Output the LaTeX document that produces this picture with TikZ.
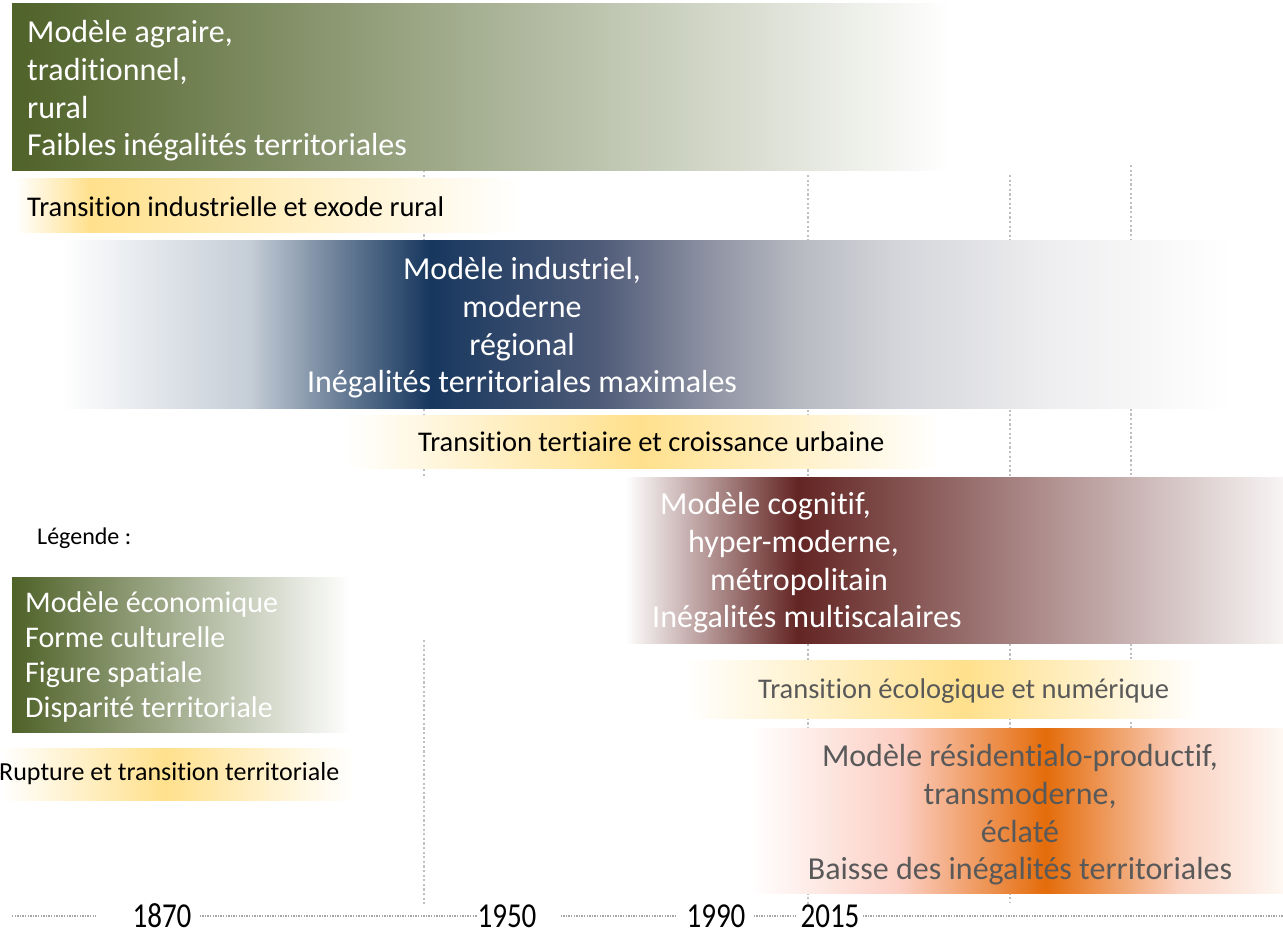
\documentclass[tikz,border=0pt]{standalone}
\usepackage{fontspec}
\setmainfont{Carlito}[Ligatures={NoCommon}]
\usetikzlibrary{positioning}

\definecolor{olivedark}{HTML}{4F6228}
\definecolor{navydark}{HTML}{17375E}
\definecolor{navymid}{HTML}{4F5B78}
\definecolor{navylight}{HTML}{8A8FA0}
\definecolor{navypale}{HTML}{B8BAC2}
\definecolor{navyfaint}{HTML}{D5D6DB}
\definecolor{navyghost}{HTML}{EEEEF0}
\definecolor{maroondark}{HTML}{632523}
\definecolor{orangedark}{HTML}{E46C0A}
\definecolor{paleyellow}{HTML}{FFE08C}
\definecolor{textgray}{HTML}{595959}
\definecolor{dotgray}{HTML}{BFBFBF}
\definecolor{linegray}{HTML}{A6A6A6}

% gradients: the path covers 25bp..75bp of each shading
\pgfdeclarehorizontalshading{agraire}{100bp}{color(0bp)=(olivedark); color(25bp)=(olivedark); color(75bp)=(white); color(100bp)=(white)}
\pgfdeclarehorizontalshading{industriel}{100bp}{color(0bp)=(white); color(25bp)=(white); color(33.1bp)=(navydark!25); color(36.5bp)=(navydark!60); color(40.8bp)=(navydark); color(48.1bp)=(navymid); color(52.4bp)=(navylight); color(56.6bp)=(navypale); color(60.9bp)=(navyfaint); color(67.3bp)=(navyghost); color(75bp)=(white); color(100bp)=(white)}
\pgfdeclarehorizontalshading{cognitif}{100bp}{color(0bp)=(white); color(25bp)=(white); color(38.1bp)=(maroondark); color(75bp)=(maroondark!5); color(100bp)=(maroondark!5)}
\pgfdeclarehorizontalshading{residentiel}{100bp}{color(0bp)=(white); color(25bp)=(white); color(39.1bp)=(orangedark!20!pink!60); color(52.7bp)=(orangedark); color(65.3bp)=(orangedark!35!pink!50); color(75bp)=(orangedark!5); color(100bp)=(orangedark!5)}
\pgfdeclarehorizontalshading{legende}{100bp}{color(0bp)=(olivedark); color(25bp)=(olivedark); color(75bp)=(white); color(100bp)=(white)}
\pgfdeclarehorizontalshading{transA}{100bp}{color(0bp)=(white); color(25bp)=(white); color(32.4bp)=(paleyellow); color(75bp)=(white); color(100bp)=(white)}
\pgfdeclarehorizontalshading{transB}{100bp}{color(0bp)=(white); color(25bp)=(white); color(49.8bp)=(paleyellow); color(75bp)=(white); color(100bp)=(white)}
\pgfdeclarehorizontalshading{transC}{100bp}{color(0bp)=(white); color(25bp)=(white); color(52.2bp)=(paleyellow); color(75bp)=(white); color(100bp)=(white)}
\pgfdeclarehorizontalshading{transL}{100bp}{color(0bp)=(white); color(25bp)=(white); color(48.4bp)=(paleyellow); color(75bp)=(white); color(100bp)=(white)}

\tikzset{
  band/.style={inner sep=0pt, anchor=north west},
  bandtext/.style={text=white, inner sep=0pt, font=\fontsize{32}{37.7}\selectfont},
  transtext/.style={text=black, inner sep=0pt, anchor=west, font=\fontsize{28.5}{33}\selectfont},
  yearlabel/.style={inner sep=0pt, xscale=0.83, font=\fontsize{35}{40}\selectfont},
  gridline/.style={dotgray, line width=2.2pt, dash pattern=on 2.2pt off 2.4pt},
  timeline/.style={linegray, line width=2.8pt, dash pattern=on 1.3pt off 1.3pt}
}

\begin{document}
\begin{tikzpicture}[x=1pt, y=-1pt]

  \useasboundingbox (0,0) rectangle (1283,936);

  % year grid
  \draw[gridline] (424,170) -- (424,478);
  \draw[gridline] (424,640) -- (424,905);
  \draw[gridline] (808,175) -- (808,906);
  \draw[gridline] (1010,175) -- (1010,903);
  \draw[gridline] (1131,165) -- (1131,760);

  % models and transitions
  \node[band, shading=agraire, minimum width=938, minimum height=167] (agraire) at (12,3) {};
  \node[bandtext, anchor=west, align=left] (agrairetxt) at (27,91)
    {Modèle agraire,\\traditionnel,\\rural\\Faibles inégalités territoriales};

  \node[band, shading=transA, minimum width=505, minimum height=54] (transind) at (15,178) {};
  \node[transtext] (transindtxt) at (27,207) {Transition industrielle et exode rural};

  \node[band, shading=industriel, minimum width=1170, minimum height=168] (industriel) at (60,240) {};
  \node[bandtext, align=center] (industrieltxt) at (522,328)
    {Modèle industriel,\\moderne\\régional\\Inégalités territoriales maximales};

  \node[band, shading=transB, minimum width=595, minimum height=53] (transter) at (345,415) {};
  \node[transtext] (transtertxt) at (418,442) {Transition tertiaire et croissance urbaine};

  \node[band, shading=cognitif, minimum width=658, minimum height=166] (cognitif) at (625,477) {};
  \node[bandtext, anchor=west, align=left] (cognitiftxt) at (652,563)
    {\hspace*{8pt}Modèle cognitif,\\\hspace*{36pt}hyper-moderne,\\\hspace*{58pt}métropolitain\\Inégalités multiscalaires};

  \node[band, shading=transC, minimum width=515, minimum height=58] (transeco) at (685,660) {};
  \node[transtext, text=textgray] (transecotxt) at (758,691) {Transition écologique et numérique};

  \node[band, shading=residentiel, minimum width=533, minimum height=165] (residentiel) at (750,728) {};
  \node[bandtext, text=textgray, align=center] (residentieltxt) at (1020,815)
    {Modèle résidentialo-productif,\\transmoderne,\\éclaté\\Baisse des inégalités territoriales};

  % legend
  \node[inner sep=0pt, anchor=west, font=\fontsize{24}{28}\selectfont] (legende) at (37,538) {Légende :};
  \node[band, shading=legende, minimum width=338, minimum height=155] (legbox) at (12,577) {};
  \node[bandtext, anchor=west, align=left, font=\fontsize{30}{35}\selectfont] (legboxtxt) at (25,657)
    {Modèle économique\\Forme culturelle\\Figure spatiale\\Disparité territoriale};
  \node[band, shading=transL, minimum width=352, minimum height=52] (legtrans) at (0,748) {};
  \node[transtext, font=\fontsize{26}{30}\selectfont] (legtranstxt) at (-1,774) {Rupture et transition territoriale};

  % time axis
  \coordinate (axstart) at (12,916);
  \coordinate (axend) at (1283,916);
  \node[yearlabel] (y1870) at (162,916) {1870};
  \node[yearlabel] (y1950) at (507,916) {1950};
  \node[yearlabel] (y1990) at (716,916) {1990};
  \node[yearlabel] (y2015) at (830,916) {2015};
  \draw[timeline, shorten >=37pt] (axstart) -- (y1870.west);
  \draw[timeline, shorten <=8pt] (y1870.east) -- (y1950.west);
  \draw[timeline, shorten <=24pt, shorten >=9pt] (y1950.east) -- (y1990.west);
  \draw[timeline, shorten <=8pt, shorten >=4pt] (y1990.east) -- (y2015.west);
  \draw[timeline, shorten <=3pt] (y2015.east) -- (axend);

\end{tikzpicture}
\end{document}
